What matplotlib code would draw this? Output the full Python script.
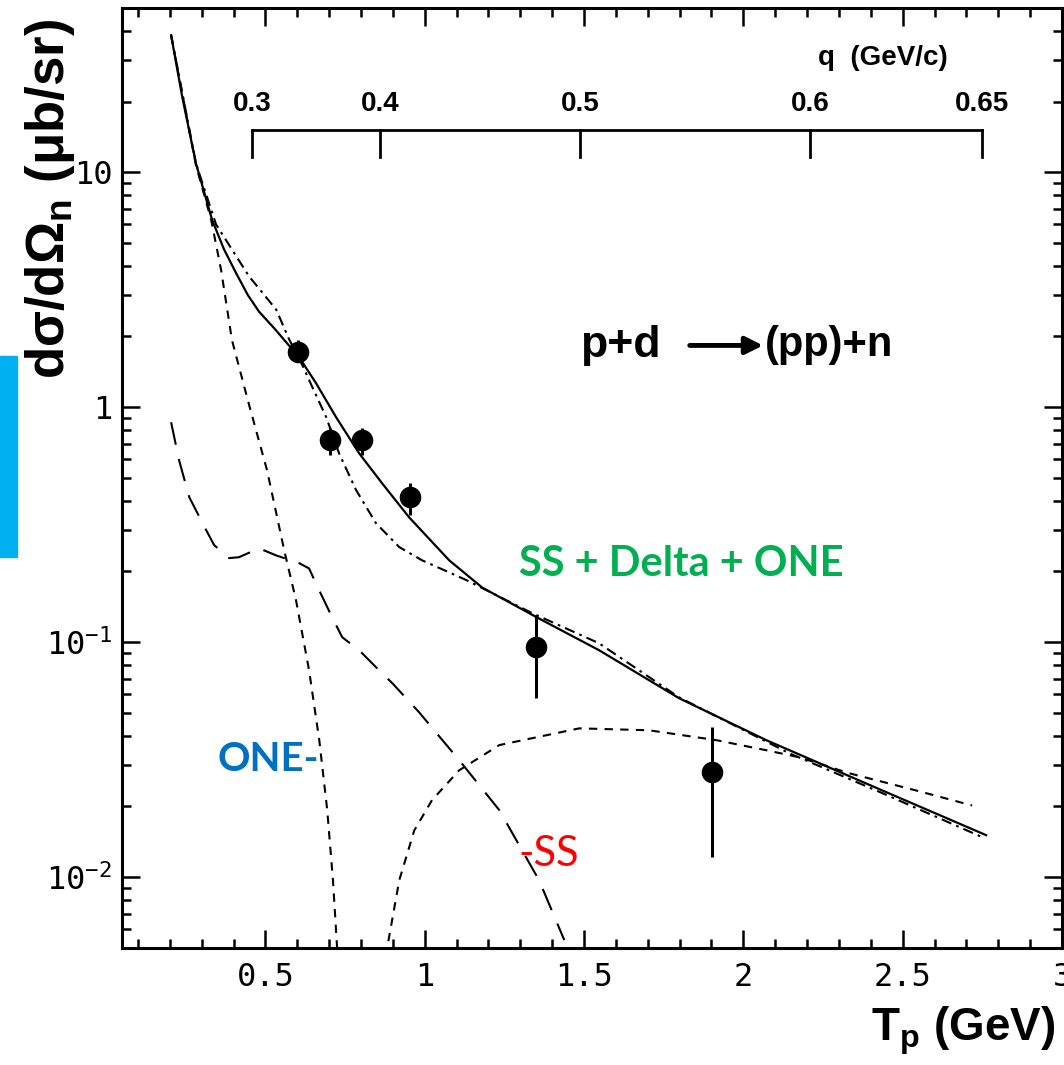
import numpy as np
import matplotlib.pyplot as plt
from matplotlib.ticker import MultipleLocator, LogLocator, FixedLocator, FixedFormatter, NullFormatter
from matplotlib.patches import Rectangle

plt.rcParams['mathtext.default'] = 'regular'

# measured cross sections (data points with error bars)
tp_data = [0.603, 0.703, 0.804, 0.954, 1.350, 1.902]
xs_data = [1.71, 0.724, 0.724, 0.414, 0.0952, 0.028]
xs_lo = [1.58, 0.625, 0.625, 0.347, 0.0578, 0.0122]
xs_hi = [1.93, 0.814, 0.814, 0.475, 0.130, 0.0435]

# SS + Delta + ONE (solid)
tp_full = [0.204, 0.239, 0.282, 0.333, 0.370, 0.408, 0.445, 0.480, 0.530, 0.574, 0.606, 0.659, 0.722,
           0.794, 0.866, 0.951, 1.077, 1.180, 1.350, 1.547, 1.798, 2.072, 2.436, 2.762]
xs_full = [38.3, 20.9, 10.9, 6.25, 4.7, 3.72, 3.0, 2.55, 2.15, 1.83, 1.63, 1.265, 0.906,
           0.637, 0.475, 0.340, 0.223, 0.171, 0.128, 0.0925, 0.0578, 0.0383, 0.0234, 0.0151]

# dash-dot curve
tp_dd = [0.204, 0.282, 0.345, 0.408, 0.449, 0.480, 0.534, 0.574, 0.615, 0.647, 0.691,
         0.731, 0.785, 0.847, 0.920, 0.992, 1.130, 1.337, 1.547, 1.798, 2.144, 2.436, 2.750]
xs_dd = [38.3, 10.9, 6.0, 4.4, 3.6, 3.2, 2.6, 1.95, 1.52, 1.22, 0.906,
         0.637, 0.443, 0.321, 0.254, 0.223, 0.184, 0.133, 0.099, 0.0583, 0.0337, 0.0228, 0.0148]

# ONE (short dashes, changes sign near 0.8 GeV)
tp_one = [0.204, 0.282, 0.330, 0.361, 0.395, 0.449, 0.505, 0.559, 0.596, 0.637, 0.669,
          0.694, 0.712, 0.725, 0.740, 0.870, 0.882, 0.920, 0.967, 1.023, 1.108, 1.234,
          1.485, 1.704, 1.915, 2.072, 2.175, 2.332, 2.542, 2.718]
xs_one = [38.3, 10.7, 6.25, 3.83, 1.93, 1.02, 0.54, 0.246, 0.151, 0.076, 0.0383,
          0.0193, 0.0097, 0.005, 0.001, 0.001, 0.005, 0.0097, 0.0158, 0.0213, 0.0285, 0.0365,
          0.043, 0.0422, 0.0383, 0.0347, 0.0324, 0.0277, 0.0234, 0.0202]

# SS (long dashes)
tp_ss = [0.204, 0.229, 0.261, 0.314, 0.339, 0.386, 0.417, 0.480, 0.534, 0.606, 0.637,
         0.669, 0.709, 0.741, 0.794, 0.866, 0.898, 0.982, 1.108, 1.234, 1.359, 1.438]
xs_ss = [0.863, 0.595, 0.414, 0.300, 0.259, 0.228, 0.230, 0.251, 0.234, 0.217, 0.206,
         0.166, 0.128, 0.105, 0.0925, 0.0738, 0.067, 0.0504, 0.0315, 0.0193, 0.0097, 0.0054]

# momentum transfer scale drawn inside the frame
q_vals = ['0.3', '0.4', '0.5', '0.6', '0.65']
q_tp = [0.458, 0.860, 1.488, 2.210, 2.750]

fig = plt.figure(figsize=(10.64, 10.65), dpi=100)
ax = fig.add_axes([0.1147, 0.1099, 0.8834, 0.8826])

ax.plot(tp_full, xs_full, color='black', lw=1.6, ls='-')
ax.plot(tp_dd, xs_dd, color='black', lw=1.5, ls=(0, (5, 2.5, 1.3, 2.5)))
ax.plot(tp_one, xs_one, color='black', lw=1.5, ls=(0, (4, 3.5)))
ax.plot(tp_ss, xs_ss, color='black', lw=1.5, ls=(0, (11, 7)))

yerr = [np.array(xs_data) - np.array(xs_lo), np.array(xs_hi) - np.array(xs_data)]
ax.errorbar(tp_data, xs_data, yerr=yerr, fmt='o', color='black', ms=14.5,
            elinewidth=2.2, capsize=0, zorder=5)

ax.set_yscale('log')
ax.set_xlim(0.05, 3.0)
ax.set_ylim(0.005, 50)

ax.xaxis.set_minor_locator(MultipleLocator(0.1))
ax.set_xticks([0.5, 1.0, 1.5, 2.0, 2.5, 3.0])
ax.set_xticklabels(['0.5', '1', '1.5', '2', '2.5', '3'])
ax.yaxis.set_major_locator(FixedLocator([0.01, 0.1, 1, 10]))
ax.yaxis.set_major_formatter(FixedFormatter(['$10^{-2}$', '$10^{-1}$', '1', '10']))
ax.yaxis.set_minor_locator(LogLocator(base=10, subs=np.arange(2, 10)))
ax.yaxis.set_minor_formatter(NullFormatter())

ax.tick_params(which='both', direction='in', top=True, right=True, width=1.8,
               labelsize=23, labelfontfamily='DejaVu Sans Mono')
ax.tick_params(which='major', length=13)
ax.tick_params(which='minor', length=6.5)
ax.tick_params(axis='x', pad=10)
ax.tick_params(axis='y', pad=7)
for s in ax.spines.values():
    s.set_linewidth(2.2)

# q axis bracket
tr = ax.get_xaxis_transform()
ax.plot([q_tp[0], q_tp[-1]], [0.870, 0.870], color='black', lw=2, transform=tr, clip_on=False)
for qt, qv in zip(q_tp, q_vals):
    ax.plot([qt, qt], [0.870, 0.841], color='black', lw=2, transform=tr)
    ax.text(qt, 0.898, qv, transform=tr, ha='center', va='center', fontsize=20,
            fontweight='bold', family='Liberation Sans')
ax.text(0.74, 0.947, 'q  (GeV/c)', transform=ax.transAxes, ha='left', va='center',
        fontsize=20, fontweight='bold', family='Liberation Sans')

# reaction label with a heavy arrow
ax.text(0.487, 0.641, 'p+d', transform=ax.transAxes, ha='left', va='center',
        fontsize=32, fontweight='bold', family='Liberation Sans')
ax.annotate('', xy=(0.682, 0.641), xytext=(0.604, 0.641), xycoords='axes fraction',
            arrowprops=dict(arrowstyle='-|>', color='black', lw=3.5, mutation_scale=26,
                            shrinkA=0, shrinkB=0))
ax.text(0.684, 0.641, '(pp)+n', transform=ax.transAxes, ha='left', va='center',
        fontsize=30, fontweight='bold', family='Liberation Sans')

ax.text(0.422, 0.409, 'SS + Delta + ONE', transform=ax.transAxes, ha='left', va='center',
        fontsize=30, fontweight='bold', family='Lato', color='#00B050')
ax.text(0.102, 0.200, 'ONE-', transform=ax.transAxes, ha='left', va='center',
        fontsize=29, fontweight='bold', family='Lato', color='#0070C0')
ax.text(0.422, 0.100, '-SS', transform=ax.transAxes, ha='left', va='center',
        fontsize=30, family='Lato', color='#FF0000')

fig.text(0.047, 0.982, 'd\u03c3/d\u03a9$_{n}$ (\u03bcb/sr)', rotation=90, ha='center', va='top',
         fontsize=38, fontweight='bold', family='Liberation Sans')
fig.text(0.992, 0.032, 'T$_{p}$ (GeV)', ha='right', va='center',
         fontsize=33, fontweight='bold', family='Liberation Sans')

fig.patches.append(Rectangle((0, 0.477), 0.016, 0.189, transform=fig.transFigure,
                             color='#00B0F0', zorder=0))

fig.savefig('out.png', dpi=100)
